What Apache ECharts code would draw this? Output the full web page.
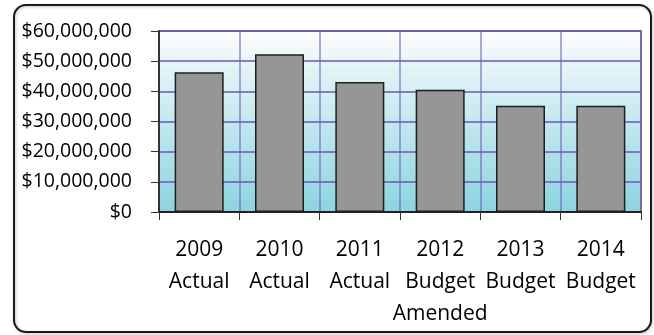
<!DOCTYPE html>
<html>
<head>
<meta charset="utf-8">
<script src="https://cdn.jsdelivr.net/npm/echarts@6/dist/echarts.min.js"></script>
<style>
html,body{margin:0;padding:0;background:#fff;}
#chart{width:654px;height:335px;}
</style>
</head>
<body>
<div id="chart"></div>
<script>
var categories = ['2009\nActual', '2010\nActual', '2011\nActual', '2012\nBudget\nAmended', '2013\nBudget', '2014\nBudget'];
var values = [46300000, 52300000, 43100000, 40500000, 35200000, 35200000];
var yMin = 0, yMax = 60000000, yInterval = 10000000;

function fmtMoney(v) {
  return '$' + String(v).replace(/\B(?=(\d{3})+(?!\d))/g, ',');
}

var chart = echarts.init(document.getElementById('chart'));
chart.setOption({
  animation: false,
  graphic: [{
    type: 'rect',
    shape: { x: 14, y: 5, width: 637, height: 327, r: 12 },
    style: { fill: 'none', stroke: '#1a1a1a', lineWidth: 2, shadowColor: 'rgba(0,0,0,0.25)', shadowBlur: 3, shadowOffsetX: 1, shadowOffsetY: 1 },
    z: 0
  }],
  grid: {
    left: 159, right: 13, top: 31, bottom: 123,
    show: true,
    borderColor: '#808080',
    borderWidth: 2,
    backgroundColor: {
      type: 'linear', x: 0, y: 0, x2: 0, y2: 1,
      colorStops: [{ offset: 0, color: '#fbfdfe' }, { offset: 1, color: '#8cd3e0' }]
    }
  },
  xAxis: {
    type: 'category',
    data: categories,
    boundaryGap: true,
    axisLine: { show: true, lineStyle: { color: '#222', width: 2 } },
    axisTick: { show: true, interval: 0, length: 8, lineStyle: { color: '#333', width: 1 } },
    splitLine: { show: true, interval: 0, lineStyle: { color: 'rgba(110,90,190,0.7)', width: 1.5 } },
    axisLabel: {
      interval: 0, margin: 22, color: '#000',
      fontFamily: 'Open Sans', fontSize: 21, lineHeight: 32
    }
  },
  yAxis: {
    type: 'value',
    min: yMin, max: yMax, interval: yInterval,
    axisLine: { show: true, lineStyle: { color: '#333', width: 2 } },
    axisTick: { show: true, length: 8, lineStyle: { color: '#333', width: 1 } },
    splitLine: { show: true, lineStyle: { color: '#6a58b0', width: 1.5 } },
    axisLabel: {
      margin: 27, color: '#000',
      fontFamily: 'Open Sans', fontSize: 19.5,
      formatter: fmtMoney
    }
  },
  series: [{
    type: 'bar',
    data: values,
    barWidth: '61%',
    itemStyle: { color: '#969696', borderColor: '#1e1e1e', borderWidth: 1.5 }
  }]
});
</script>
</body>
</html>
